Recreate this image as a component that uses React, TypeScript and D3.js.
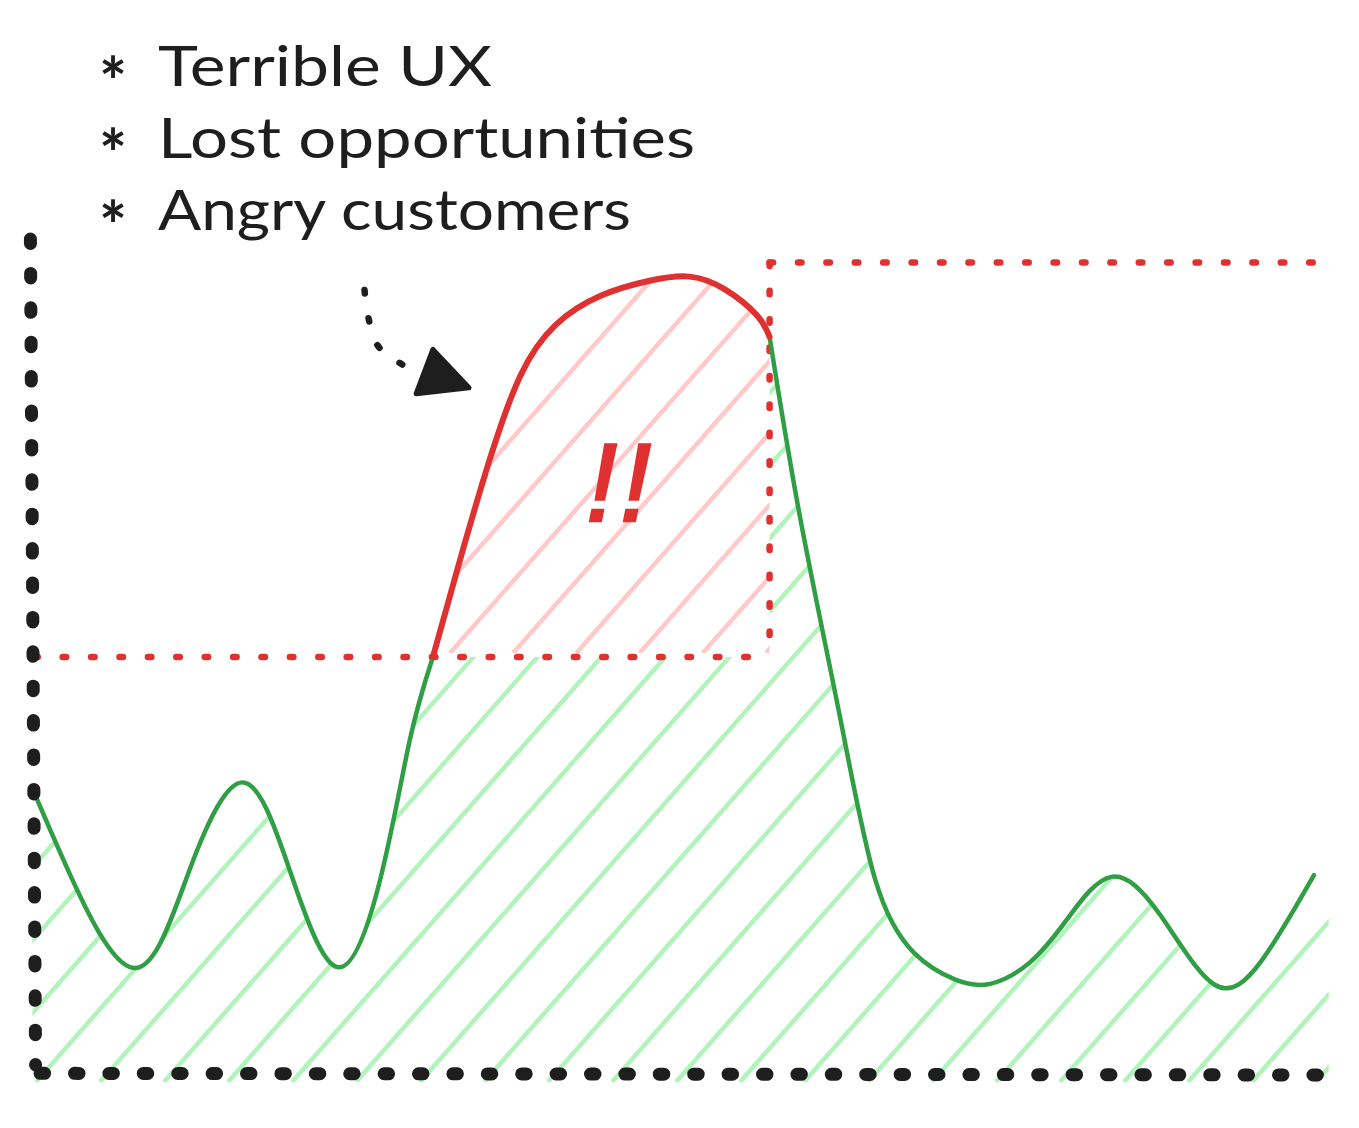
import React from 'react';
import * as d3 from 'd3';

const width = 1359;
const height = 1128;

// readings, in chart units: x 0..100 left to right, y 0..100 bottom to top
const greenLeft: [number, number][] = [
  [0.0, 34.1], [2.6, 24.9], [7.8, 12.8], [12.2, 24.8], [16.3, 35.0], [19.9, 24.5],
  [23.6, 12.9], [26.9, 23.3], [29.2, 40.0], [31.0, 50.0],
];
const redTop: [number, number][] = [
  [31.0, 50.0], [33.1, 61.6], [35.4, 73.6], [37.8, 83.7], [40.5, 89.7], [44.0, 93.2],
  [47.8, 95.0], [50.9, 95.5], [53.6, 94.0], [56.1, 90.9], [57.1, 88.3],
];
const greenRight: [number, number][] = [
  [57.1, 88.3], [59.5, 66.4], [62.6, 42.5], [65.3, 23.3], [68.3, 14.6], [71.5, 11.4],
  [74.2, 10.9], [77.3, 13.5], [80.2, 18.7], [83.6, 23.7], [87.4, 19.1], [91.6, 10.8],
  [95.3, 13.8], [99.3, 23.9],
];
// the hatched fill runs a bit past the end of the line
const fillEdge: [number, number][] = [[100.4, 24.5]];

const threshold = 50;
const limit = 97.2;
const boxLeft = 0.1;
const boxRight = 57.1;
const limitEnd = 99.8;

const bullets = ['Terrible UX', 'Lost opportunities', 'Angry customers'];
const bulletWidths = [334, 537, 473];
const alarm = '!!';

const arrowShaft: [number, number][] = [[25.7, 93.9], [26.0, 90.6], [26.7, 87.3], [28.4, 85.2], [30.4, 83.6]];
const arrowHead: [number, number][] = [[31.0, 86.8], [33.8, 82.2], [29.7, 81.5]];

const ink = '#1e1e1e';
const green = '#2f9e44';
const red = '#e03131';
const greenHatch = '#b2f2bb';
const redHatch = '#ffc9c9';

const x = d3.scaleLinear().domain([0, 100]).range([33, 1323]);
const y = d3.scaleLinear().domain([0, 100]).range([1075, 239]);

const curve = d3.curveNatural;
const line = d3.line<[number, number]>().x(d => x(d[0])).y(d => y(d[1])).curve(curve);
const straight = d3.line<[number, number]>().x(d => x(d[0])).y(d => y(d[1]));
const soft = d3.line<[number, number]>().x(d => x(d[0])).y(d => y(d[1])).curve(d3.curveCatmullRom);
const areaTo = (base: number) =>
  d3.area<[number, number]>().x(d => x(d[0])).y0(base).y1(d => y(d[1])).curve(curve);

// hatch strokes, ~48.7 degrees, like the sketch fill
const slope = Math.tan((48.7 * Math.PI) / 180);
const hatch = (x0: number, y0: number, step: number, from: number, to: number) =>
  d3.range(from, to).map(k => {
    const bx = x0 + k * step;
    return `M${bx},${y0}L${bx + 900 / slope},${y0 - 900}`;
  }).join('');

export default function App() {
  const underGreen = areaTo(y(0) + 7);
  const underRed = areaTo(y(threshold) - 4);
  return (
    <svg width={width} height={height} style={{ position: 'absolute', left: 0, top: 0, background: '#fff' }}>
      <defs>
        <mask id="greenMask">
          <rect width={width} height={height} fill="black" />
          <path d={underGreen(greenLeft) ?? ''} fill="white" stroke="white" strokeWidth={1} />
          <path d={underGreen(redTop) ?? ''} fill="white" stroke="white" strokeWidth={1} />
          <path d={underGreen(greenRight.concat(fillEdge)) ?? ''} fill="white" stroke="white" strokeWidth={1} />
          <path d={areaTo(y(threshold))(redTop) ?? ''} fill="black" />
        </mask>
        <clipPath id="redClip">
          <path d={underRed(redTop) ?? ''} />
        </clipPath>
      </defs>

      <path d={hatch(36, y(0) + 7, 64, -14, 22)} stroke={greenHatch} strokeWidth={4.5} fill="none" mask="url(#greenMask)" />
      <path d={hatch(450, y(threshold) - 4, 63.2, -8, 10)} stroke={redHatch} strokeWidth={4.5} fill="none" clipPath="url(#redClip)" />

      {/* red guide box */}
      <g stroke={red} strokeWidth={6.5} strokeLinecap="round" fill="none" strokeDasharray="3.5 24.9">
        <path d={straight([[boxLeft, threshold], [boxRight, threshold]]) ?? ''} />
        <path d={straight([[boxRight, limit], [boxRight, threshold]]) ?? ''} />
        <path d={straight([[boxRight, limit], [limitEnd, limit]]) ?? ''} />
      </g>

      <g fill="none" strokeLinecap="round" strokeLinejoin="round">
        <path d={line(greenLeft) ?? ''} stroke={green} strokeWidth={4.5} />
        <path d={line(greenRight) ?? ''} stroke={green} strokeWidth={4.5} />
        <path d={line(redTop) ?? ''} stroke={red} strokeWidth={6} />
      </g>

      {/* axes */}
      <g stroke={ink} strokeWidth={13} strokeLinecap="round" fill="none" strokeDasharray="4.5 29.9">
        <path d={straight([[-0.2, 100], [0.2, 1.2]]) ?? ''} />
        <path d={straight([[0.55, 0.2], [100, 0]]) ?? ''} />
      </g>

      {/* arrow */}
      <path d={soft(arrowShaft) ?? ''} stroke={ink} strokeWidth={6.5} strokeLinecap="round" fill="none" strokeDasharray="3.5 25" />
      <path d={(straight(arrowHead) ?? '') + 'Z'} fill={ink} stroke={ink} strokeWidth={5} strokeLinejoin="round" />

      <text x={620} y={521} textAnchor="middle" fill={red} stroke={red} strokeWidth={2.5}
        fontFamily="'Liberation Sans', Arial, sans-serif" fontStyle="italic" fontSize={112} letterSpacing={3}>{alarm}</text>

      <g fill={ink} fontFamily="Lato, 'Noto Sans', sans-serif" fontSize={56}>
        {bullets.map((b, i) => (
          <g key={b}>
            <text x={113} y={86 + i * 72 + 20} textAnchor="middle" fontSize={66} fontWeight="bold">*</text>
            <text x={158} y={86 + i * 72} textLength={bulletWidths[i]} lengthAdjust="spacingAndGlyphs">{b}</text>
          </g>
        ))}
      </g>
    </svg>
  );
}
